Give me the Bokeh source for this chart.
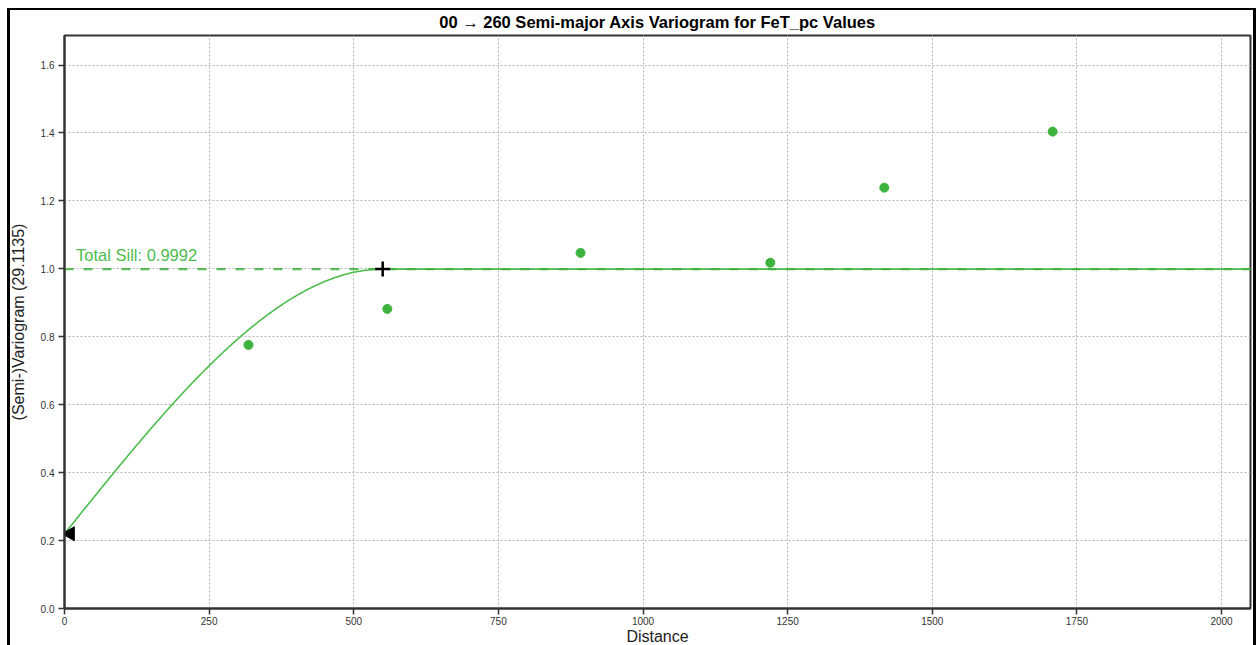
import numpy as np
from bokeh.plotting import figure
from bokeh.models import Range1d, FixedTicker, NumeralTickFormatter
from bokeh.core.properties import value
from bokeh.embed import file_html
from bokeh.resources import INLINE

# ---- data ----
lag_distance = [318, 558, 892, 1220, 1417, 1708]
semivariance = [0.776, 0.882, 1.047, 1.018, 1.239, 1.404]

nugget = 0.22
total_sill = 0.9992
model_range = 550
nugget_marker_x = 10

x_ticks = [0, 250, 500, 750, 1000, 1250, 1500, 1750, 2000]
y_ticks = [0.0, 0.2, 0.4, 0.6, 0.8, 1.0, 1.2, 1.4, 1.6]
x_max = 2050
y_max = 1.687

title_text = "00 \u2192 260 Semi-major Axis Variogram for FeT_pc Values"
x_label = "Distance"
y_label = "(Semi-)Variogram (29.1135)"
sill_label = "Total Sill: 0.9992"

# spherical variogram model
h = np.linspace(0, x_max, 600)
hr = np.minimum(h / model_range, 1.0)
gamma = nugget + (total_sill - nugget) * (1.5 * hr - 0.5 * hr ** 3)

FONT = "Liberation Sans"
GREEN = "#3db23d"
LGREEN = "#4cbc4c"

box_css = {
    "background-image": "linear-gradient(black,black), linear-gradient(black,black), linear-gradient(black,black)",
    "background-size": "3px 100%, 1249px 2px, 3px 100%",
    "background-position": "7px 8px, 7px 8px, 1253px 8px",
    "background-repeat": "no-repeat",
}

p = figure(
    width=1257, height=647,
    x_range=Range1d(0, x_max), y_range=Range1d(0, y_max),
    output_backend="svg", toolbar_location=None,
    min_border_left=64, min_border_right=7, min_border_top=35, min_border_bottom=10,
    border_fill_color=None, background_fill_color="white",
    title=title_text,
    styles=box_css,
)

p.title.align = "center"
p.title.text_font = FONT
p.title.text_font_size = "16.5px"
p.title.text_font_style = "bold"
p.title.text_color = "black"

p.outline_line_color = "#333333"
p.outline_line_width = 2

for ax in (p.xaxis, p.yaxis):
    ax.axis_line_color = "#333333"
    ax.axis_line_width = 2
    ax.major_tick_out = 6
    ax.major_tick_in = 0
    ax.major_tick_line_color = "#333333"
    ax.major_tick_line_width = 1.5
    ax.minor_tick_line_color = None
    ax.major_label_text_font = FONT
    ax.major_label_text_font_size = "10px"
    ax.major_label_text_color = "#333333"
    ax.axis_label_text_font = FONT
    ax.axis_label_text_font_size = "16px"
    ax.axis_label_text_font_style = "normal"
    ax.axis_label_text_color = "#222222"

p.xaxis.ticker = FixedTicker(ticks=x_ticks)
p.yaxis.ticker = FixedTicker(ticks=y_ticks)
p.yaxis.formatter = NumeralTickFormatter(format="0.0")
p.xaxis.axis_label = x_label
p.yaxis.axis_label = y_label
p.xaxis.axis_label_standoff = 0
p.yaxis.axis_label_standoff = 11
p.xaxis.major_label_standoff = 2
p.yaxis.major_label_standoff = 4

for g in (p.xgrid, p.ygrid):
    g.grid_line_color = "#b5b5b5"
    g.grid_line_dash = "2 2"
    g.grid_line_width = 1

# model
p.line(h, gamma, line_color=LGREEN, line_width=1.6)
# sill line
p.line([0, x_max], [total_sill, total_sill], line_color=GREEN, line_width=2.2, line_dash="9 10", line_alpha=0.85)
# experimental points
p.scatter(lag_distance, semivariance, size=9, color=GREEN, line_color=GREEN)
# range marker
p.scatter([model_range], [total_sill], marker="cross", size=15, line_color="black", line_width=2.5)
# nugget marker
p.scatter([nugget_marker_x], [nugget], marker="triangle", size=14, angle=np.pi / 2,
          color="black", line_color="black")
# sill text
p.text([20], [total_sill], text=[sill_label], text_font=value(FONT), text_font_size="16.5px",
       text_color=LGREEN, text_baseline="bottom", y_offset=-5)

open("out.html", "w").write(file_html(p, INLINE))
